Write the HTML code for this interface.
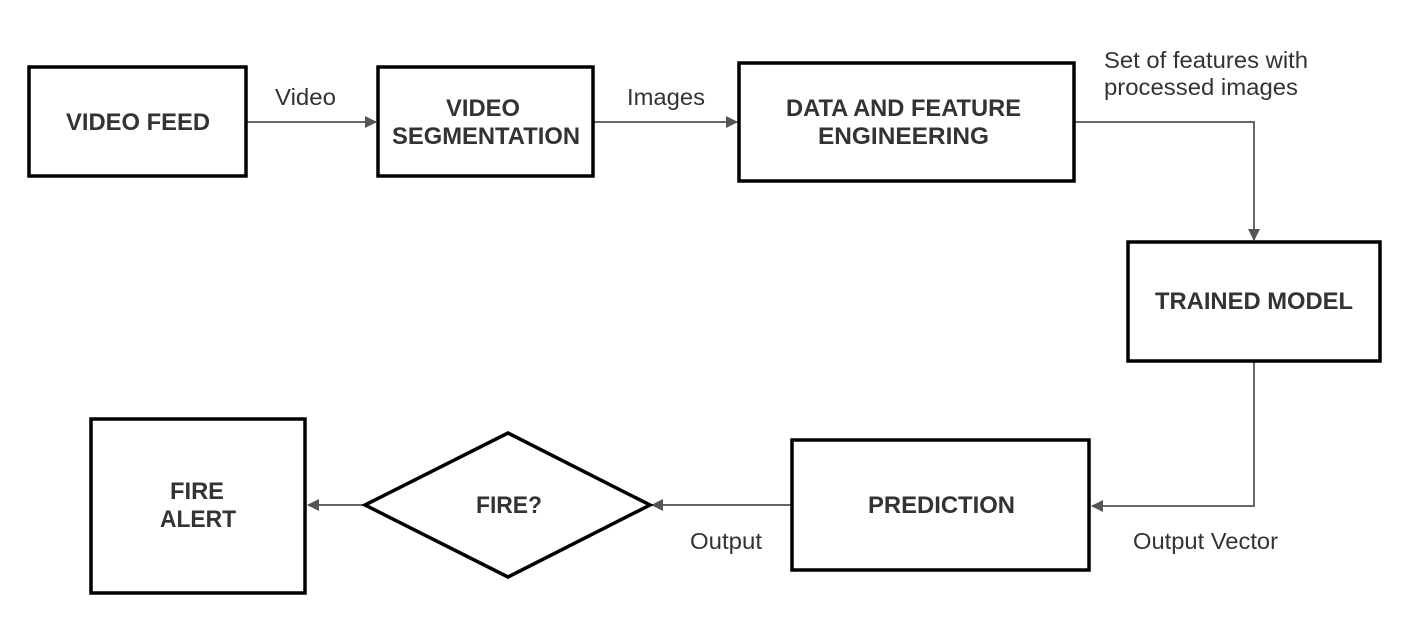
<!DOCTYPE html>
<html><head><style>
html,body{margin:0;padding:0;background:#fff;}
svg text{font-family:"Liberation Sans",Arial,sans-serif;fill:#333;}
.b{font-weight:bold;font-size:24px;}
.l{font-size:23.5px;}
</style></head><body>
<svg width="1414" height="620" viewBox="0 0 1414 620" xmlns="http://www.w3.org/2000/svg">
<defs><marker id="a" markerWidth="12" markerHeight="12" refX="11" refY="6" orient="auto" markerUnits="userSpaceOnUse"><path d="M0,0 L12,6 L0,12 z" fill="#555"/></marker></defs>
<g fill="none" stroke="#666" stroke-width="2">
<path d="M247,122 H376" marker-end="url(#a)"/>
<path d="M594,122 H737" marker-end="url(#a)"/>
<path d="M1075,122 H1254 V240" marker-end="url(#a)"/>
<path d="M1254,362 V506 H1092" marker-end="url(#a)"/>
<path d="M791,505 H652" marker-end="url(#a)"/>
<path d="M365,505 H308" marker-end="url(#a)"/>
</g>
<g fill="#fff" stroke="#000" stroke-width="3.5">
<rect x="29" y="67" width="217" height="109"/>
<rect x="378" y="67" width="215" height="109"/>
<rect x="739" y="63" width="335" height="118"/>
<rect x="1128" y="242" width="252" height="119"/>
<rect x="792" y="440" width="297" height="130"/>
<rect x="91" y="419" width="214" height="174"/>
<polygon points="365,505 508,433 650,505 508,577"/>
</g>
<g class="b" lengthAdjust="spacingAndGlyphs">
<text x="66" y="130" textLength="144" lengthAdjust="spacingAndGlyphs">VIDEO FEED</text>
<text x="446" y="116" textLength="74" lengthAdjust="spacingAndGlyphs">VIDEO</text>
<text x="392" y="144" textLength="188" lengthAdjust="spacingAndGlyphs">SEGMENTATION</text>
<text x="786" y="116" textLength="235" lengthAdjust="spacingAndGlyphs">DATA AND FEATURE</text>
<text x="818" y="144" textLength="171" lengthAdjust="spacingAndGlyphs">ENGINEERING</text>
<text x="1155" y="309" textLength="198" lengthAdjust="spacingAndGlyphs">TRAINED MODEL</text>
<text x="868" y="513" textLength="147" lengthAdjust="spacingAndGlyphs">PREDICTION</text>
<text x="170" y="499" textLength="54" lengthAdjust="spacingAndGlyphs">FIRE</text>
<text x="160" y="527" textLength="76" lengthAdjust="spacingAndGlyphs">ALERT</text>
<text x="476" y="513" textLength="66" lengthAdjust="spacingAndGlyphs">FIRE?</text>
</g>
<g class="l">
<text x="275" y="105" textLength="61" lengthAdjust="spacingAndGlyphs">Video</text>
<text x="627" y="105" textLength="78" lengthAdjust="spacingAndGlyphs">Images</text>
<text x="1104" y="68" textLength="204" lengthAdjust="spacingAndGlyphs">Set of features with</text>
<text x="1104" y="95" textLength="194" lengthAdjust="spacingAndGlyphs">processed images</text>
<text x="690" y="549" textLength="72" lengthAdjust="spacingAndGlyphs">Output</text>
<text x="1133" y="549" textLength="145" lengthAdjust="spacingAndGlyphs">Output Vector</text>
</g>
</svg>
</body></html>
